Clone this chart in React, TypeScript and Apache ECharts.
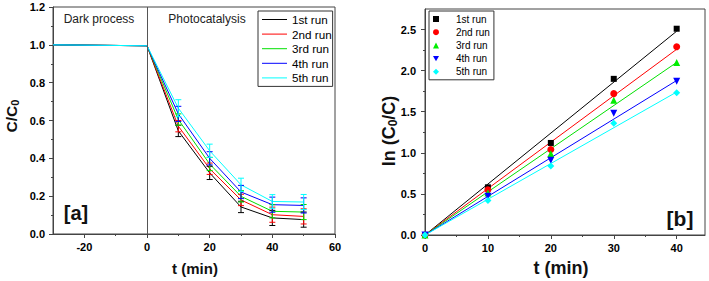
import React, { useEffect, useRef } from 'react';
import * as echarts from 'echarts';

// ---------- data ----------
const RUNS = ['1st run', '2nd run', '3rd run', '4th run', '5th run'];
const COLORS = ['#000000', '#ff0000', '#00e000', '#0000ff', '#00ffff'];

// panel [a]: C/C0 vs time
const TIME_A = [-30, 0, 10, 20, 30, 40, 50];
const RUN1_A = [1.0, 0.995, 0.545, 0.323, 0.143, 0.085, 0.076];
const RUN2_A = [1.0, 0.995, 0.57, 0.345, 0.18, 0.102, 0.093];
const RUN3_A = [1.0, 0.995, 0.605, 0.37, 0.199, 0.12, 0.116];
const RUN4_A = [1.0, 0.995, 0.635, 0.4, 0.222, 0.155, 0.151];
const RUN5_A = [1.0, 0.995, 0.665, 0.44, 0.26, 0.172, 0.169];
const ERR1_A = [0, 0, 0.03, 0.035, 0.03, 0.04, 0.04];
const ERR2_A = [0, 0, 0.03, 0.03, 0.03, 0.04, 0.04];
const ERR3_A = [0, 0, 0.03, 0.035, 0.03, 0.035, 0.04];
const ERR4_A = [0, 0, 0.04, 0.035, 0.035, 0.04, 0.04];
const ERR5_A = [0, 0, 0.045, 0.035, 0.035, 0.036, 0.04];
const DIVIDER_X = 0;

// panel [b]: ln(C0/C) vs time
const TIME_B = [0, 10, 20, 30, 40];
const RUN1_B = [0, 0.58, 1.12, 1.9, 2.51];
const RUN2_B = [0, 0.55, 1.04, 1.72, 2.29];
const RUN3_B = [0, 0.51, 0.99, 1.64, 2.1];
const RUN4_B = [0, 0.47, 0.91, 1.48, 1.87];
const RUN5_B = [0, 0.42, 0.84, 1.36, 1.73];
const FIT_X = [0, 40];
const FIT_END_B = [2.48, 2.26, 2.1, 1.88, 1.74];

// axis ticks
const AX_TICKS = [-20, 0, 20, 40, 60];
const AX_MINOR = [-10, 10, 30, 50];
const BX_TICKS = [0, 10, 20, 30, 40];
const BX_MINOR = [5, 15, 25, 35];
const BY_TICKS = [0, 0.5, 1.0, 1.5, 2.0, 2.5];
const BY_MINOR = [0.25, 0.75, 1.25, 1.75, 2.25];

const SERIES_A = [RUN1_A, RUN2_A, RUN3_A, RUN4_A, RUN5_A];
const ERRORS_A = [ERR1_A, ERR2_A, ERR3_A, ERR4_A, ERR5_A];
const SERIES_B = [RUN1_B, RUN2_B, RUN3_B, RUN4_B, RUN5_B];
const SYMBOLS_B = ['rect', 'circle', 'triangle', 'path://M0,0 L10,0 L5,9 Z', 'diamond'];
const SYMBOL_SIZES_B = [6, 7, 7, 7, 7];

const FONT = 'Arial, "Liberation Sans", sans-serif';
const AX = '#444444';
const LINE_ICON = 'path://M0,0 L25,0 L25,1 L0,1 Z';

export default function App() {
  const ref = useRef<HTMLDivElement>(null);

  useEffect(() => {
    if (!ref.current) return;
    const chart = echarts.init(ref.current, null, { renderer: 'svg' });

    const tickLabel = (decimals: number) => ({
      fontSize: 11,
      fontWeight: 'bold',
      color: '#000',
      fontFamily: FONT,
      formatter: (v: number) => v.toFixed(decimals),
    });

    const mainX = (gridIndex: number, min: number, max: number, ticks: number[], margin: number) => ({
      type: 'value',
      gridIndex,
      position: 'bottom',
      min,
      max,
      interval: 10,
      axisLine: { show: true, onZero: false, lineStyle: { color: AX, width: 1 } },
      axisTick: { show: true, inside: false, length: 4, customValues: ticks, lineStyle: { color: AX } },
      axisLabel: { ...tickLabel(0), customValues: ticks, margin },
      splitLine: { show: false },
    });
    const minorAxis = (kind: 'x' | 'y', gridIndex: number, min: number, max: number, ticks: number[]) => ({
      type: 'value',
      gridIndex,
      position: kind === 'x' ? 'bottom' : 'left',
      min,
      max,
      axisLine: { show: false, onZero: false },
      axisTick: { show: true, inside: false, length: 2, customValues: ticks, lineStyle: { color: AX } },
      axisLabel: { show: false },
      splitLine: { show: false },
    });

    const series: any[] = [];

    // panel a: lines
    SERIES_A.forEach((vals, i) => {
      series.push({
        name: RUNS[i],
        type: 'line',
        xAxisIndex: 0,
        yAxisIndex: 0,
        data: TIME_A.map((t, j) => [t, vals[j]]),
        symbol: 'none',
        showSymbol: false,
        lineStyle: { color: COLORS[i], width: 1 },
        itemStyle: { color: COLORS[i] },
        z: 3,
        markLine:
          i === 0
            ? {
                silent: true,
                symbol: ['none', 'none'],
                label: { show: false },
                lineStyle: { color: '#555', type: 'solid', width: 1 },
                data: [{ xAxis: DIVIDER_X }],
              }
            : undefined,
      });
    });
    // panel a: error bars
    SERIES_A.forEach((vals, i) => {
      const color = COLORS[i];
      series.push({
        name: RUNS[i] + ' err',
        type: 'custom',
        xAxisIndex: 0,
        yAxisIndex: 0,
        data: TIME_A.map((t, j) => [t, vals[j], ERRORS_A[i][j]]),
        encode: { x: 0, y: 1 },
        z: 4,
        renderItem: (_p: any, api: any) => {
          const x = api.value(0);
          const y = api.value(1);
          const e = api.value(2);
          if (!e) return null;
          const top = api.coord([x, y + e]);
          const bot = api.coord([x, y - e]);
          const hw = 3;
          const style = { stroke: color, lineWidth: 1 };
          return {
            type: 'group',
            children: [
              { type: 'line', shape: { x1: top[0], y1: top[1], x2: bot[0], y2: bot[1] }, style },
              { type: 'line', shape: { x1: top[0] - hw, y1: top[1], x2: top[0] + hw, y2: top[1] }, style },
              { type: 'line', shape: { x1: bot[0] - hw, y1: bot[1], x2: bot[0] + hw, y2: bot[1] }, style },
            ],
          };
        },
      });
    });

    // panel b: fit lines
    FIT_END_B.forEach((end, i) => {
      series.push({
        name: 'fit ' + RUNS[i],
        type: 'line',
        xAxisIndex: 2,
        yAxisIndex: 1,
        data: [
          [FIT_X[0], 0],
          [FIT_X[1], end],
        ],
        symbol: 'none',
        showSymbol: false,
        lineStyle: { color: COLORS[i], width: 1 },
        z: 2,
      });
    });
    // panel b: scatter
    SERIES_B.forEach((vals, i) => {
      series.push({
        name: 'b:' + RUNS[i],
        type: 'scatter',
        xAxisIndex: 2,
        yAxisIndex: 1,
        data: TIME_B.map((t, j) => [t, vals[j]]),
        symbol: SYMBOLS_B[i],
        symbolSize: SYMBOL_SIZES_B[i],
        itemStyle: { color: COLORS[i] === '#00e000' ? '#00ee00' : COLORS[i], opacity: 1 },
        clip: false,
        z: 5,
      });
    });

    const option: any = {
      animation: false,
      backgroundColor: '#ffffff',
      textStyle: { fontFamily: FONT },
      grid: [
        { left: 53, top: 7, width: 282, height: 227, show: true, borderColor: AX, borderWidth: 1, backgroundColor: 'transparent' },
        { left: 425, top: 9, width: 280, height: 226, show: true, borderColor: AX, borderWidth: 1, backgroundColor: 'transparent' },
      ],
      xAxis: [
        mainX(0, -30, 60, AX_TICKS, 7),
        minorAxis('x', 0, -30, 60, AX_MINOR),
        mainX(1, 0, 44.5, BX_TICKS, 7),
        minorAxis('x', 1, 0, 44.5, BX_MINOR),
      ],
      yAxis: [
        {
          type: 'value',
          gridIndex: 0,
          position: 'left',
          min: 0,
          max: 1.2,
          interval: 0.2,
          axisLine: { show: true, onZero: false, lineStyle: { color: AX, width: 1 } },
          axisTick: { show: true, inside: false, length: 4, lineStyle: { color: AX } },
          minorTick: { show: true, splitNumber: 2, length: 2, lineStyle: { color: AX } },
          axisLabel: { ...tickLabel(1), margin: 8 },
          splitLine: { show: false },
          minorSplitLine: { show: false },
        },
        {
          type: 'value',
          gridIndex: 1,
          position: 'left',
          min: 0,
          max: 2.75,
          interval: 0.5,
          axisLine: { show: true, onZero: false, lineStyle: { color: AX, width: 1 } },
          axisTick: { show: true, inside: false, length: 4, customValues: BY_TICKS, lineStyle: { color: AX } },
          axisLabel: { ...tickLabel(1), customValues: BY_TICKS, margin: 9 },
          splitLine: { show: false },
        },
        minorAxis('y', 1, 0, 2.75, BY_MINOR),
      ],
      legend: [
        {
          data: RUNS.map((name) => ({ name, icon: LINE_ICON })),
          orient: 'vertical',
          left: 258,
          top: 11,
          itemWidth: 25,
          itemHeight: 10,
          itemGap: 2.6,
          padding: [2.5, 1, 2.5, 4],
          borderColor: '#333',
          borderWidth: 1,
          backgroundColor: '#fff',
          selectedMode: false,
          textStyle: { fontSize: 11.7, color: '#000', fontFamily: FONT },
        },
        {
          data: RUNS.map((r) => 'b:' + r),
          formatter: (name: string) => name.replace('b:', ''),
          orient: 'vertical',
          left: 429,
          top: 11,
          itemWidth: 6,
          itemHeight: 6,
          itemGap: 3.2,
          padding: [3, 4, 3, 4],
          borderColor: '#333',
          borderWidth: 1,
          backgroundColor: '#fff',
          selectedMode: false,
          textStyle: { fontSize: 10, color: '#000', fontFamily: FONT, padding: [0, 0, 0, 12] },
        },
      ],
      graphic: [
        {
          type: 'text',
          x: 99,
          y: 19,
          style: { text: 'Dark process', fontSize: 12, fontFamily: FONT, fill: '#222', align: 'center', verticalAlign: 'middle' },
        },
        {
          type: 'text',
          x: 207,
          y: 19,
          style: { text: 'Photocatalysis', fontSize: 12, fontFamily: FONT, fill: '#222', align: 'center', verticalAlign: 'middle' },
        },
        {
          type: 'text',
          x: 76,
          y: 213,
          style: { text: '[a]', fontSize: 20, fontWeight: 'bold', fontFamily: FONT, fill: '#111', align: 'center', verticalAlign: 'middle' },
        },
        {
          type: 'text',
          x: 680,
          y: 218,
          style: { text: '[b]', fontSize: 21, fontWeight: 'bold', fontFamily: FONT, fill: '#111', align: 'center', verticalAlign: 'middle' },
        },
        {
          type: 'text',
          x: 195,
          y: 268,
          style: { text: 't (min)', fontSize: 15, fontWeight: 'bold', fontFamily: FONT, fill: '#111', align: 'center', verticalAlign: 'middle' },
        },
        {
          type: 'text',
          x: 561,
          y: 268,
          style: { text: 't (min)', fontSize: 18, fontWeight: 'bold', fontFamily: FONT, fill: '#111', align: 'center', verticalAlign: 'middle' },
        },
        {
          type: 'text',
          x: 11,
          y: 116,
          rotation: Math.PI / 2,
          style: {
            text: '{m|C/C}{s|0}',
            align: 'center',
            verticalAlign: 'middle',
            rich: {
              m: { fontSize: 15.5, fontWeight: 'bold', fontFamily: FONT, fill: '#111' },
              s: { fontSize: 11, fontWeight: 'bold', fontFamily: FONT, fill: '#111', padding: [7, 0, 0, 0] },
            },
          },
        },
        {
          type: 'text',
          x: 389,
          y: 131,
          rotation: Math.PI / 2,
          style: {
            text: '{m|ln (C}{s|0}{m|/C)}',
            align: 'center',
            verticalAlign: 'middle',
            rich: {
              m: { fontSize: 18, fontWeight: 'bold', fontFamily: FONT, fill: '#111' },
              s: { fontSize: 12, fontWeight: 'bold', fontFamily: FONT, fill: '#111', padding: [8, 0, 0, 0] },
            },
          },
        },
      ],
      series,
    };

    chart.setOption(option);
    return () => chart.dispose();
  }, []);

  return (
    <div
      ref={ref}
      style={{ position: 'fixed', left: 0, top: 0, width: 709, height: 281, background: '#fff' }}
    />
  );
}
